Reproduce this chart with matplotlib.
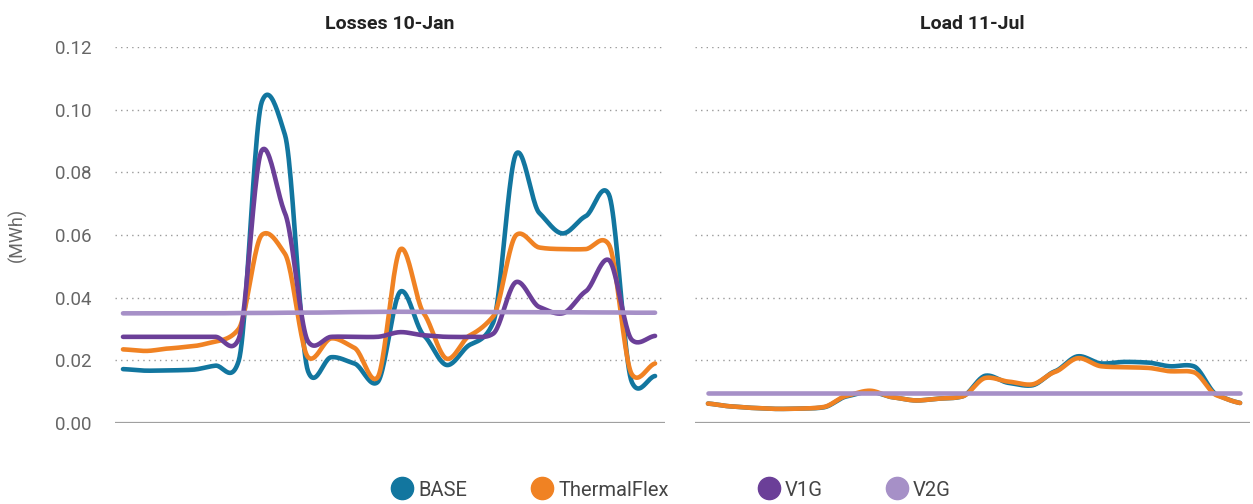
import numpy as np
import matplotlib
matplotlib.use("Agg")
import matplotlib.pyplot as plt
from matplotlib.lines import Line2D

plt.rcParams['font.family'] = ['Roboto', 'DejaVu Sans']

hours = list(range(1, 25))
series_names = ["BASE", "ThermalFlex", "V1G", "V2G"]
colors = {"BASE": "#12769f", "ThermalFlex": "#f08223", "V1G": "#6b3f98", "V2G": "#a690c7"}

titles = ["Losses 10-Jan", "Load 11-Jul"]
yticks = [0.00, 0.02, 0.04, 0.06, 0.08, 0.10, 0.12]
ytick_labels = ["0.00", "0.02", "0.04", "0.06", "0.08", "0.10", "0.12"]
ylabel = "(MWh)"

# Left panel: Losses 10-Jan
jan_base = [0.0172, 0.0167, 0.0168, 0.0170, 0.0183, 0.0198, 0.1025, 0.0920, 0.0165, 0.0210,
            0.0190, 0.0130, 0.0420, 0.0280, 0.0185, 0.0250, 0.0320, 0.0860, 0.0670, 0.0605,
            0.0660, 0.0730, 0.0130, 0.0150]
jan_thermal = [0.0235, 0.0230, 0.0238, 0.0245, 0.0260, 0.0300, 0.0600, 0.0540, 0.0210, 0.0270,
               0.0240, 0.0145, 0.0555, 0.0350, 0.0205, 0.0280, 0.0340, 0.0600, 0.0560, 0.0555,
               0.0555, 0.0570, 0.0155, 0.0190]
jan_v1g = [0.0275, 0.0275, 0.0275, 0.0275, 0.0275, 0.0268, 0.0870, 0.0670, 0.0260, 0.0275,
           0.0275, 0.0275, 0.0290, 0.0280, 0.0275, 0.0275, 0.0285, 0.0450, 0.0370, 0.0350,
           0.0420, 0.0520, 0.0265, 0.0278]
jan_v2g = [0.0350, 0.0350, 0.0350, 0.0350, 0.0350, 0.0351, 0.0351, 0.0352, 0.0352, 0.0353,
           0.0354, 0.0355, 0.0355, 0.0355, 0.0355, 0.0355, 0.0354, 0.0354, 0.0354, 0.0354,
           0.0353, 0.0353, 0.0352, 0.0352]

# Right panel: Load 11-Jul
jul_base = [0.0062, 0.0053, 0.0048, 0.0045, 0.0046, 0.0050, 0.0085, 0.0100, 0.0082, 0.0072,
            0.0078, 0.0085, 0.0151, 0.0128, 0.0120, 0.0165, 0.0213, 0.0190, 0.0195, 0.0193,
            0.0181, 0.0181, 0.0090, 0.0064]
jul_thermal = [0.0062, 0.0053, 0.0048, 0.0045, 0.0046, 0.0051, 0.0087, 0.0103, 0.0082, 0.0072,
               0.0078, 0.0085, 0.0144, 0.0132, 0.0123, 0.0163, 0.0207, 0.0181, 0.0178, 0.0176,
               0.0165, 0.0162, 0.0088, 0.0064]
jul_v2g = [0.0096] * 24

panels = [
    {"BASE": jan_base, "ThermalFlex": jan_thermal, "V1G": jan_v1g, "V2G": jan_v2g},
    {"BASE": jul_base, "ThermalFlex": jul_thermal, "V2G": jul_v2g},
]


def smooth(x, y, n=24, c=0.55):
    """Cardinal-spline rendering of a line through the given points."""
    x = np.asarray(x, float)
    y = np.asarray(y, float)
    m = np.zeros_like(y)
    m[1:-1] = c * (y[2:] - y[:-2]) / 2
    m[0] = c * (y[1] - y[0])
    m[-1] = c * (y[-1] - y[-2])
    t = np.linspace(0, 1, n, endpoint=False)
    h00 = 2 * t ** 3 - 3 * t ** 2 + 1
    h10 = t ** 3 - 2 * t ** 2 + t
    h01 = -2 * t ** 3 + 3 * t ** 2
    h11 = t ** 3 - t ** 2
    xs, ys = [], []
    for i in range(len(x) - 1):
        xs.append(x[i] + (x[i + 1] - x[i]) * t)
        ys.append(h00 * y[i] + h10 * m[i] + h01 * y[i + 1] + h11 * m[i + 1])
    xs.append([x[-1]])
    ys.append([y[-1]])
    return np.concatenate(xs), np.concatenate(ys)


fig = plt.figure(figsize=(12.53, 5.04), dpi=100)
ax_rects = [
    [115 / 1253, 1 - 423 / 504, 550 / 1253, (423 - 47) / 504],
    [695 / 1253, 1 - 423 / 504, 555 / 1253, (423 - 47) / 504],
]
xlims = [(0.654, 24.43), (0.438, 24.43)]

for k, (rect, data) in enumerate(zip(ax_rects, panels)):
    ax = fig.add_axes(rect)
    for name in series_names:
        if name not in data:
            continue
        xs, ys = smooth(hours, data[name])
        ax.plot(xs, ys, color=colors[name], lw=3.3, solid_capstyle='round', zorder=3)
    ax.set_ylim(0, 0.12)
    ax.set_xlim(*xlims[k])
    for v in yticks[1:]:
        ax.axhline(v, color="#9a9a9a", lw=1.0, ls=(0, (1, 3)), zorder=1)
    ax.axhline(0, color="#a0a0a0", lw=1.6, zorder=2)
    for s in ax.spines.values():
        s.set_visible(False)
    ax.set_xticks([])
    ax.set_yticks(yticks)
    if k == 0:
        ax.set_yticklabels(ytick_labels, fontsize=13.5, color="#666666")
        ax.tick_params(axis='y', length=0, pad=17)
        ax.set_ylabel(ylabel, fontsize=13, color="#666666", labelpad=20)
    else:
        ax.tick_params(axis='y', length=0, labelleft=False)
    ax.set_title(titles[k], fontsize=14, fontweight='bold', color="#222222", pad=13)

legend_x = [396 / 1253, 536 / 1253, 763 / 1253, 891 / 1253]
for name, lx in zip(series_names, legend_x):
    h = Line2D([], [], marker='o', ls='none', markersize=16, color=colors[name], label=name)
    fig.legend(handles=[h], loc='center left', bbox_to_anchor=(lx - 0.004, 1 - 490 / 504),
               frameon=False, fontsize=14.5, handletextpad=0.25, borderaxespad=0,
               borderpad=0, labelcolor="#444444", handlelength=1.1)

fig.savefig("out.png", dpi=100)
